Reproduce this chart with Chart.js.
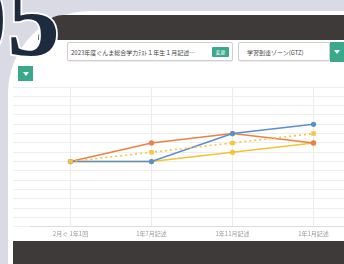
<!DOCTYPE html>
<html><head><meta charset="utf-8">
<script src="https://cdn.jsdelivr.net/npm/chart.js@4"></script>
<style>
html,body{margin:0;padding:0;}
body{width:344px;height:264px;overflow:hidden;position:relative;background:#dadae4;font-family:"Noto Sans CJK JP","Noto Sans",sans-serif;}
#card{position:absolute;left:8px;top:11px;width:420px;height:300px;background:#fff;border-top-left-radius:82px;}
#bar{position:absolute;left:38px;top:15px;width:330px;height:25px;background:#3e3a3a;border-top-left-radius:30px;}
#num{position:absolute;left:0;top:0;}
.sel{position:absolute;top:42px;height:19px;background:#fff;border:1px solid #cfcfcf;border-radius:2px;box-shadow:0 1px 1px rgba(0,0,0,0.08);font-size:6px;color:#444;line-height:19px;white-space:nowrap;box-sizing:border-box;}
#s1{left:67px;width:166px;padding-left:3px;}
#s2{left:238px;width:92px;padding-left:8px;}
#b1{position:absolute;left:212px;top:47px;width:17px;height:10px;background:#3aa88b;color:#fff;font-size:5px;line-height:10px;text-align:center;border-radius:1px;}
.gbtn{position:absolute;background:#3aa88b;}
.tri{position:absolute;width:0;height:0;border-left:3px solid transparent;border-right:3px solid transparent;border-top:4px solid #fff;}
#g1{left:330px;top:42px;width:16px;height:20px;}
#g2{left:18px;top:66px;width:15px;height:15px;}
#wrap{position:absolute;left:13px;top:80px;width:345px;height:163px;}
#foot{position:absolute;left:13px;top:241px;width:340px;height:30px;background:#3e3a3a;}
</style></head><body>
<div id="card"></div>
<div id="bar"></div>
<svg id="num" width="80" height="70"><text x="-46" y="55" font-family="Liberation Serif" font-weight="bold" font-size="106" fill="#1c2b3d" stroke="#fff" stroke-width="3.5" paint-order="stroke">05</text></svg>
<div class="sel" id="s1">2023年度ぐんま総合学力ﾃｽﾄ１年生１月記述…</div>
<div id="b1">変更</div>
<div class="sel" id="s2">学習到達ゾーン(GTZ)</div>
<div class="gbtn" id="g1"><div class="tri" style="left:4px;top:8px;"></div></div>
<div class="gbtn" id="g2"><div class="tri" style="left:4.5px;top:6px;"></div></div>
<div id="wrap"><canvas id="c"></canvas></div>
<div id="foot"></div>
<script>
const categories = ["2月ぐ 1年1回", "1年7月記述", "1年11月記述", "1年1月記述"];
const seriesDotted = [7, 8, 9, 10];
const seriesBlue = [7, 7, 10, 11];
const seriesOrange = [7, 9, 10, 9];
const seriesYellow = [7, 7, 8, 9];

new Chart(document.getElementById('c'), {
  type: 'line',
  data: {
    labels: categories,
    datasets: [
      {data: seriesDotted, borderColor:'#f7c53c', backgroundColor:'#f7c53c', borderWidth:1.6, borderDash:[2,3], pointStyle:'rect', pointRadius:3.2, pointBorderWidth:0},
      {data: seriesBlue, borderColor:'#5b8fcf', backgroundColor:'#5b8fcf', borderWidth:1.5, pointRadius:2.6, pointBorderWidth:0},
      {data: seriesOrange, borderColor:'#ec8046', backgroundColor:'#ec8046', borderWidth:1.5, pointRadius:2.6, pointBorderWidth:0},
      {data: seriesYellow, borderColor:'#f6c132', backgroundColor:'#f6c132', borderWidth:1.5, pointRadius:2.6, pointBorderWidth:0}
    ]
  },
  options: {
    responsive:true, maintainAspectRatio:false, animation:false,
    layout:{padding:{top:7,bottom:3,left:0,right:0}},
    plugins:{legend:{display:false}, tooltip:{enabled:false}},
    scales:{
      x:{offset:true, grid:{color:'#ececec', drawTicks:false}, border:{color:'#dcdcdc'},
         ticks:{color:'#9a9a9a', font:{size:6, family:'"Noto Sans CJK JP"'}, padding:3, maxRotation:0}},
      y:{min:0, max:15, grid:{color:'#eeeeee', drawTicks:true, tickLength:17}, border:{display:false},
         ticks:{display:false, stepSize:1}}
    }
  }
});
</script>
</body></html>
